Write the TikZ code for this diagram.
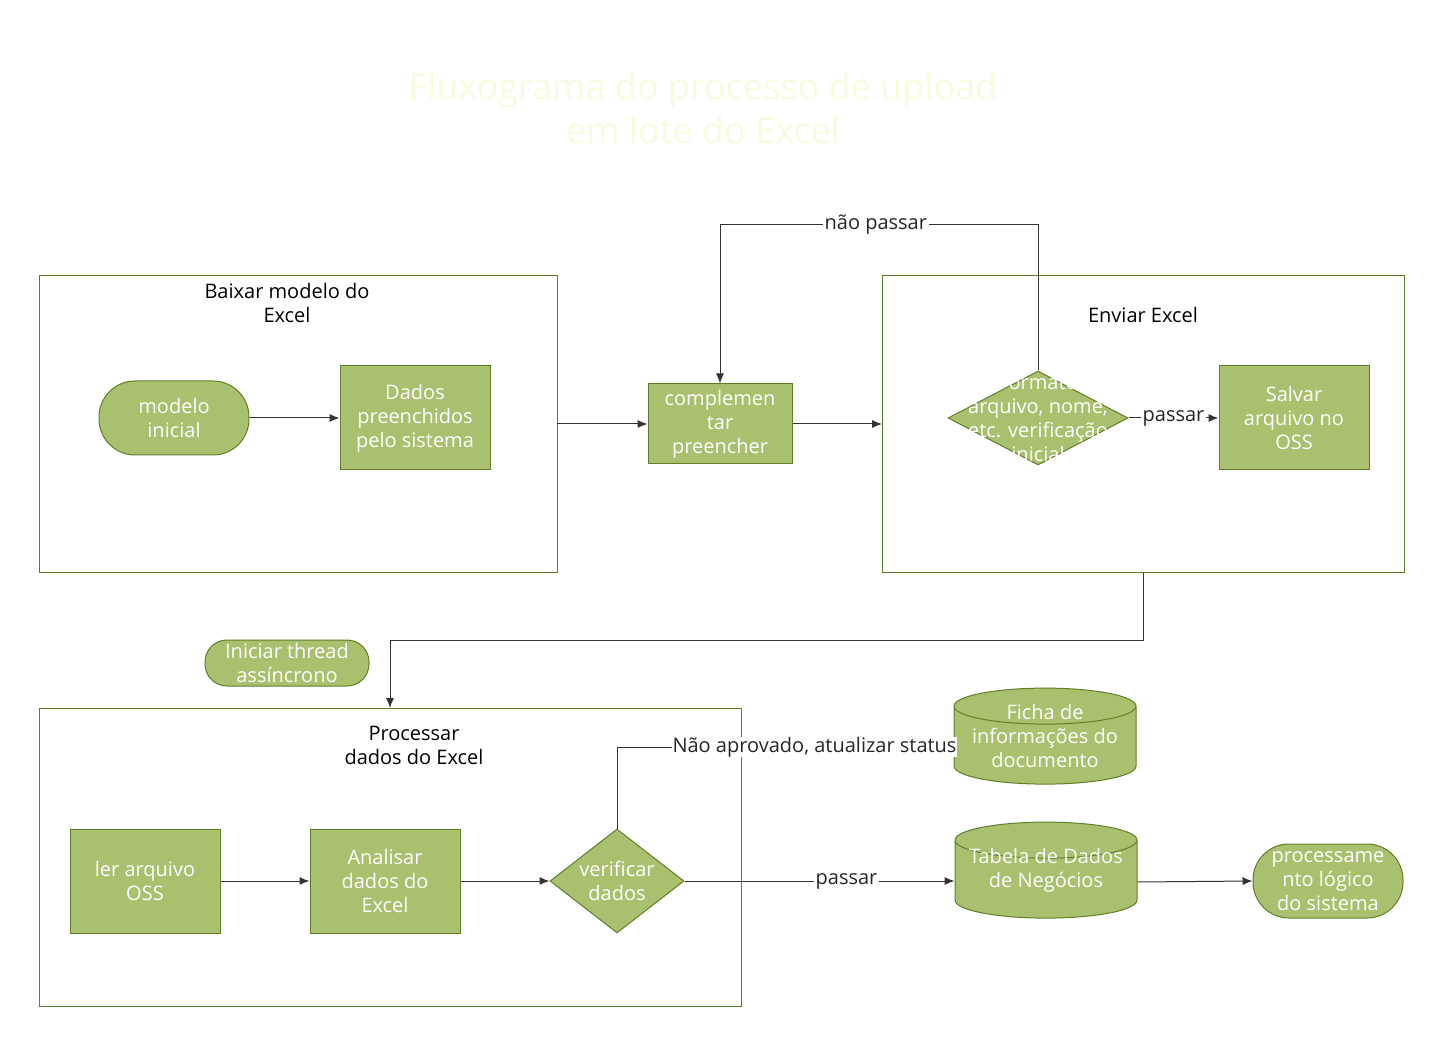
\documentclass[tikz,border=0pt]{standalone}
\usepackage{fontspec}
\setmainfont{Open Sans}
\usetikzlibrary{positioning,arrows.meta,shapes.geometric}
\definecolor{boxfill}{RGB}{169,192,110}
\definecolor{boxline}{RGB}{96,128,40}
\definecolor{titlecol}{RGB}{250,250,225}

\begin{document}
\begin{tikzpicture}[x=0.5pt,y=-0.5pt,
font=\fontsize{10}{12}\selectfont,
groupbox/.style={draw=boxline, line width=0.5pt},
grouptitle/.style={align=center, text=black},
stepnode/.style={draw=boxline, fill=boxfill, text=white, align=center, line width=0.5pt, inner sep=2pt},
roundnode/.style={stepnode, rounded corners=18pt},
decnode/.style={stepnode, diamond, aspect=1.9, inner sep=0pt},
dbnode/.style={stepnode, cylinder, shape border rotate=90, aspect=4.5, minimum width=91pt, minimum height=48pt},
flow/.style={-{Latex[length=5pt,width=4pt]}, draw=black!80, line width=0.5pt},
lbl/.style={fill=white, text=black!85, inner sep=1pt}
]
    \useasboundingbox (0,0) rectangle (1440,1042);
    %Title
    \node[text=titlecol, font=\fontsize{18}{22}\selectfont, align=center] (title) at (703,108)
        {Fluxograma do processo de upload\\em lote do Excel};

    %Groups
    \draw[groupbox] (39,276) rectangle (557,573);
    \node[grouptitle] (g1) at (287,303) {Baixar modelo do\\Excel};
    \draw[groupbox] (882,276) rectangle (1404,573);
    \node[grouptitle] (g2) at (1143,315) {Enviar Excel};
    \draw[groupbox] (39,708) rectangle (741,1006);
    \node[grouptitle] (g3) at (414,745) {Processar\\dados do Excel};
    \coordinate (g1e) at (557,424);
    \coordinate (g2w) at (882,424);
    \coordinate (g2s) at (1143,573);
    \coordinate (g3n) at (390,708);

    %Nodes
    \node[roundnode, minimum width=75pt, minimum height=37pt] (mod) at (174,418) {modelo\\inicial};
    \node[stepnode, minimum width=75pt, minimum height=52pt] (dad) at (415,418) {Dados\\preenchidos\\pelo sistema};
    \node[stepnode, minimum width=72pt, minimum height=40pt] (comp) at (720,424) {complemen\\tar\\preencher};
    \node[decnode, minimum width=90pt, minimum height=47pt] (fmt) at (1038,418) {};
    \node[text=white, align=center] at (fmt) {Formato\\arquivo, nome,\\etc. verificação\\inicial};
    \node[stepnode, minimum width=75pt, minimum height=52pt] (oss) at (1294,418) {Salvar\\arquivo no\\OSS};
    \node[roundnode, rounded corners=11pt, minimum width=82pt, minimum height=23pt, inner sep=0pt] (thr) at (287,663) {Iniciar thread\\assíncrono};
    \node[stepnode, minimum width=75pt, minimum height=52pt] (ler) at (145,881) {ler arquivo\\OSS};
    \node[stepnode, minimum width=75pt, minimum height=52pt] (ana) at (385,881) {Analisar\\dados do\\Excel};
    \node[decnode, minimum width=67pt, minimum height=52pt, aspect=1.3] (ver) at (617,881) {verificar\\dados};
    \node[dbnode] (ficha) at (1045,748) {};
    \node[text=white, align=center] at (1045,736) {Ficha de\\informações do\\documento};
    \node[dbnode] (tab) at (1046,882) {};
    \node[text=white, align=center] at (1046,870) {Tabela de Dados\\de Negócios};
    \node[roundnode, minimum width=75pt, minimum height=37pt] (proc) at (1328,881) {processame\\nto lógico\\do sistema};

    %Lines
    \draw[flow] (mod.east) -- (mod.east -| dad.west);
    \draw[flow] (g1e) -- (comp.west);
    \draw[flow] (comp.east) -- (g2w);
    \draw[flow] (fmt.north) -- (1038,225) -- node[lbl, pos=0.51] {não passar} (720,225) -- (comp.north);
    \draw[flow] (fmt.east) -- node[lbl] {passar} (oss.west);
    \draw[flow] (g2s) -- (1143,640) -- (390,640) -- (g3n);
    \draw[flow] (ler.east) -- (ana.west);
    \draw[flow] (ana.east) -- (ver.west);
    \draw[draw=black!80, line width=0.5pt] (ver.north) -- (617,747) -- (672,747)
        node[lbl, anchor=west, inner sep=0pt] {Não aprovado, atualizar status};
    \draw[flow] (ver.east) -- node[lbl, pos=0.6] {passar} (ver.east -| tab.west);
    \draw[flow] (tab.east) -- (proc.west);
\end{tikzpicture}
\end{document}
